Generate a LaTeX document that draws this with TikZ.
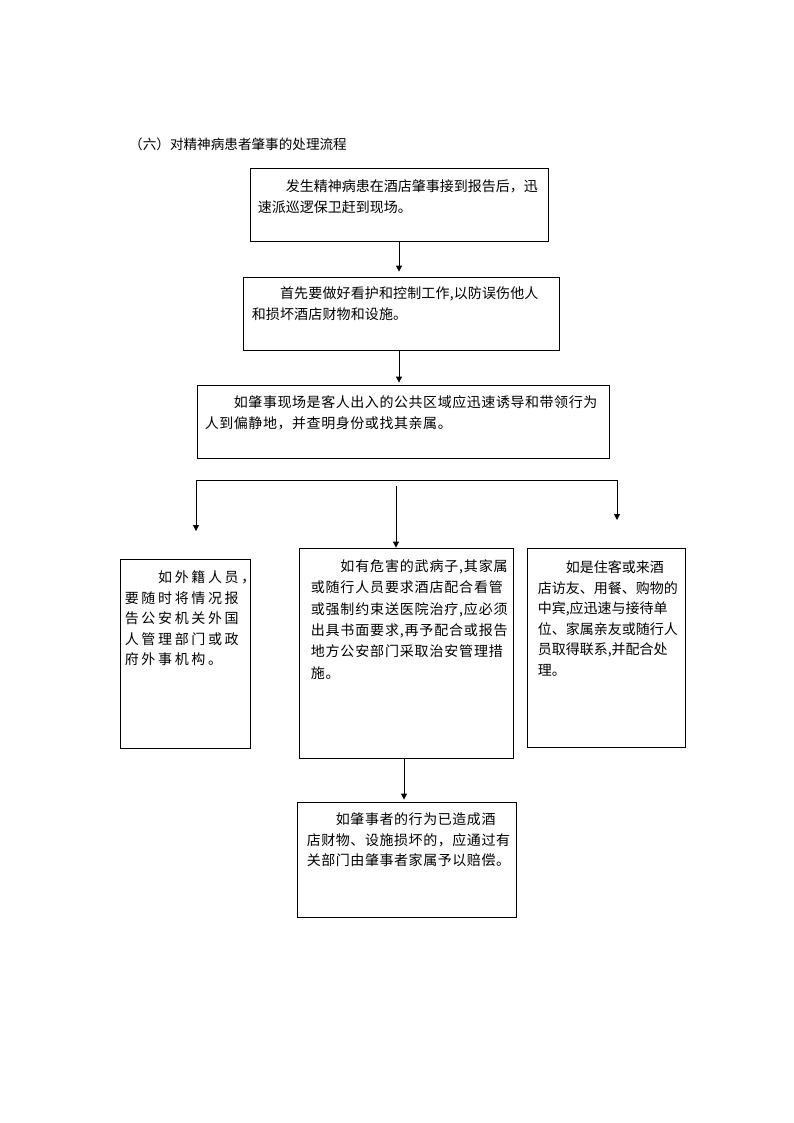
\documentclass[tikz,border=0pt]{standalone}
\usepackage{fontspec}
\newfontfamily\cjk{Noto Sans CJK SC}
\usetikzlibrary{arrows.meta}

\tikzset{
  box/.style={draw, line width=0.8pt, inner sep=0pt},
  txt/.style={anchor=north west, inner sep=0pt, align=left},
  arr/.style={line width=0.8pt, -{Triangle[length=6pt,width=6pt]}}
}

\begin{document}
\begin{tikzpicture}[x=1pt, y=-1pt]
\useasboundingbox (0,0) rectangle (794,1123);
\node[anchor=west, inner sep=0pt, font=\cjk\fontsize{13.6}{16}\selectfont] (title) at (129,144) {（六）对精神病患者肇事的处理流程};
\node[box, minimum width=298, minimum height=73] (b1) at (399,204.5) {};
\node[box, minimum width=316, minimum height=73] (b2) at (401,313.5) {};
\node[box, minimum width=412, minimum height=73] (b3) at (403,421.5) {};
\node[box, minimum width=130, minimum height=189] (b4) at (185,653.5) {};
\node[box, minimum width=214, minimum height=210] (b5) at (406,653) {};
\node[box, minimum width=158, minimum height=199] (b6) at (606,647.5) {};
\node[box, minimum width=219, minimum height=115] (b7) at (406.5,859.5) {};
\node[txt, font=\cjk\fontsize{14}{21}\selectfont] (t1) at ([shift={(8,12)}]b1.north west) {　　发生精神病患在酒店肇事接到报告后，迅\\速派巡逻保卫赶到现场。};
\node[txt, font=\cjk\fontsize{14}{21}\selectfont\addfontfeature{LetterSpace=1}] (t2) at ([shift={(9,10)}]b2.north west) {　　首先要做好看护和控制工作,以防误伤他人\\和损坏酒店财物和设施。};
\node[txt, font=\cjk\fontsize{14}{20.5}\selectfont\addfontfeature{LetterSpace=4}] (t3) at ([shift={(8,11)}]b3.north west) {　　如肇事现场是客人出入的公共区域应迅速诱导和带领行为\\人到偏静地，并查明身份或找其亲属。};
\node[txt, font=\cjk\fontsize{14}{20.5}\selectfont\addfontfeature{LetterSpace=19}] (t4) at ([shift={(5,12)}]b4.north west) {　　如外籍人员，\\要随时将情况报\\告公安机关外国\\人管理部门或政\\府外事机构。};
\node[txt, font=\cjk\fontsize{14}{21.3}\selectfont\addfontfeature{LetterSpace=6}] (t5) at ([shift={(12,12)}]b5.north west) {　　如有危害的武病子,其家属\\或随行人员要求酒店配合看管\\或强制约束送医院治疗,应必须\\出具书面要求,再予配合或报告\\地方公安部门采取治安管理措\\施。};
\node[txt, font=\cjk\fontsize{14}{20.5}\selectfont] (t6) at ([shift={(11,13)}]b6.north west) {　　如是住客或来酒\\店访友、用餐、购物的\\中宾,应迅速与接待单\\位、家属亲友或随行人\\员取得联系,并配合处\\理。};
\node[txt, font=\cjk\fontsize{14}{20.5}\selectfont\addfontfeature{LetterSpace=4}] (t7) at ([shift={(10,11)}]b7.north west) {　　如肇事者的行为已造成酒\\店财物、设施损坏的，应通过有\\关部门由肇事者家属予以赔偿。};
\draw[arr, shorten >=5pt] (b1.south) -- (b1.south |- b2.north);
\draw[arr, shorten >=2pt] ([xshift=-2]b2.south) -- ([xshift=-2]b2.south |- b3.north);
\coordinate (fl) at (196,480);
\coordinate (fr) at (617,480);
\coordinate (al) at (196,531);
\coordinate (ar) at (617,520);
\coordinate (fm) at (396,486);
\draw[line width=0.8pt] (fl) -- (fr);
\draw[arr] (fl) -- (al);
\draw[arr] (fr) -- (ar);
\draw[arr] (fm) -- (fm |- b5.north);
\draw[arr, shorten >=2pt] ([xshift=-2]b5.south) -- ([xshift=-2]b5.south |- b7.north);
\end{tikzpicture}
\end{document}
